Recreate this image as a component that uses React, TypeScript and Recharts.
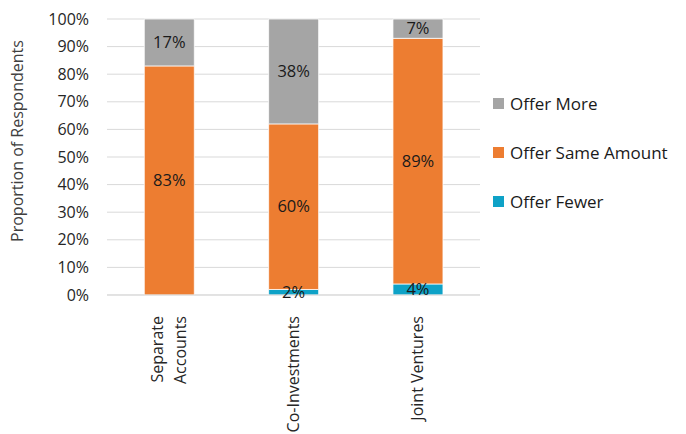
import { BarChart, Bar, XAxis, YAxis, CartesianGrid, LabelList } from 'recharts';

// data (percent of respondents)
const categories = ['Separate\nAccounts', 'Co-Investments', 'Joint Ventures'];
const offerFewer = [0, 2, 4];
const offerSame = [83, 60, 89];
const offerMore = [17, 38, 7];
const yTicks = [0, 10, 20, 30, 40, 50, 60, 70, 80, 90, 100];

const FONT = '"Open Sans", sans-serif';

const series = [
  { key: 'fewer', name: 'Offer Fewer', color: '#0ea2c7' },
  { key: 'same', name: 'Offer Same Amount', color: '#ed7d31' },
  { key: 'more', name: 'Offer More', color: '#a5a5a5' },
];

const data = categories.map((name, i) => ({
  name,
  fewer: offerFewer[i],
  same: offerSame[i],
  more: offerMore[i],
}));

function CategoryTick(props: any) {
  const { x, y, payload } = props;
  const lines: string[] = String(payload.value).split('\n');
  const lh = 23;
  return (
    <g transform={`translate(${x},${y})`}>
      <text
        transform="rotate(-90)"
        textAnchor="end"
        fill="#262626"
        fontSize={16}
        fontFamily={FONT}
      >
        {lines.map((l, i) => (
          <tspan key={i} x={-13} y={(i - (lines.length - 1) / 2) * lh} dy="0.35em">
            {l}
          </tspan>
        ))}
      </text>
    </g>
  );
}

function SegmentLabel(props: any) {
  const { x, y, width, height, value } = props;
  if (!value) return null;
  return (
    <text
      x={x + width / 2}
      y={y + height / 2}
      dy="0.35em"
      textAnchor="middle"
      fill="#1a1a1a"
      fontSize={16.5}
      fontFamily={FONT}
    >
      {value}%
    </text>
  );
}

export default function App() {
  return (
    <div style={{ position: 'absolute', left: 0, top: 0, width: 686, height: 434, fontFamily: FONT }}>
      <BarChart
        width={686}
        height={434}
        data={data}
        margin={{ top: 19, right: 206, bottom: 0, left: 0 }}
        barCategoryGap="30%"
      >
        <CartesianGrid vertical={false} stroke="#d9d9d9" />
        <XAxis
          dataKey="name"
          height={139}
          interval={0}
          tickLine={false}
          axisLine={{ stroke: '#d9d9d9' }}
          tick={<CategoryTick />}
        />
        <YAxis
          width={107}
          domain={[0, 100]}
          ticks={yTicks}
          tickFormatter={(v) => `${v}%`}
          axisLine={false}
          tickLine={false}
          tickMargin={12}
          tick={{ fill: '#262626', fontSize: 16, fontFamily: FONT }}
          label={{
            content: () => (
              <text
                transform="translate(23,141) rotate(-90)"
                textAnchor="middle"
                fill="#404040"
                fontSize={16}
                fontFamily={FONT}
              >
                Proportion of Respondents
              </text>
            ),
          }}
        />
        {series.map((s) => (
          <Bar
            key={s.key}
            dataKey={s.key}
            name={s.name}
            stackId="a"
            fill={s.color}
            stroke="#ffffff"
            strokeWidth={0.75}
            isAnimationActive={false}
          >
            <LabelList dataKey={s.key} content={<SegmentLabel />} />
          </Bar>
        ))}
      </BarChart>
      <div style={{ position: 'absolute', left: 493, top: 79 }}>
        {[...series].reverse().map((s) => (
          <div
            key={s.key}
            style={{ display: 'flex', alignItems: 'center', height: 49, fontSize: 17, color: '#1a1a1a' }}
          >
            <span style={{ display: 'inline-block', width: 11, height: 11, background: s.color, marginRight: 6 }} />
            {s.name}
          </div>
        ))}
      </div>
    </div>
  );
}
